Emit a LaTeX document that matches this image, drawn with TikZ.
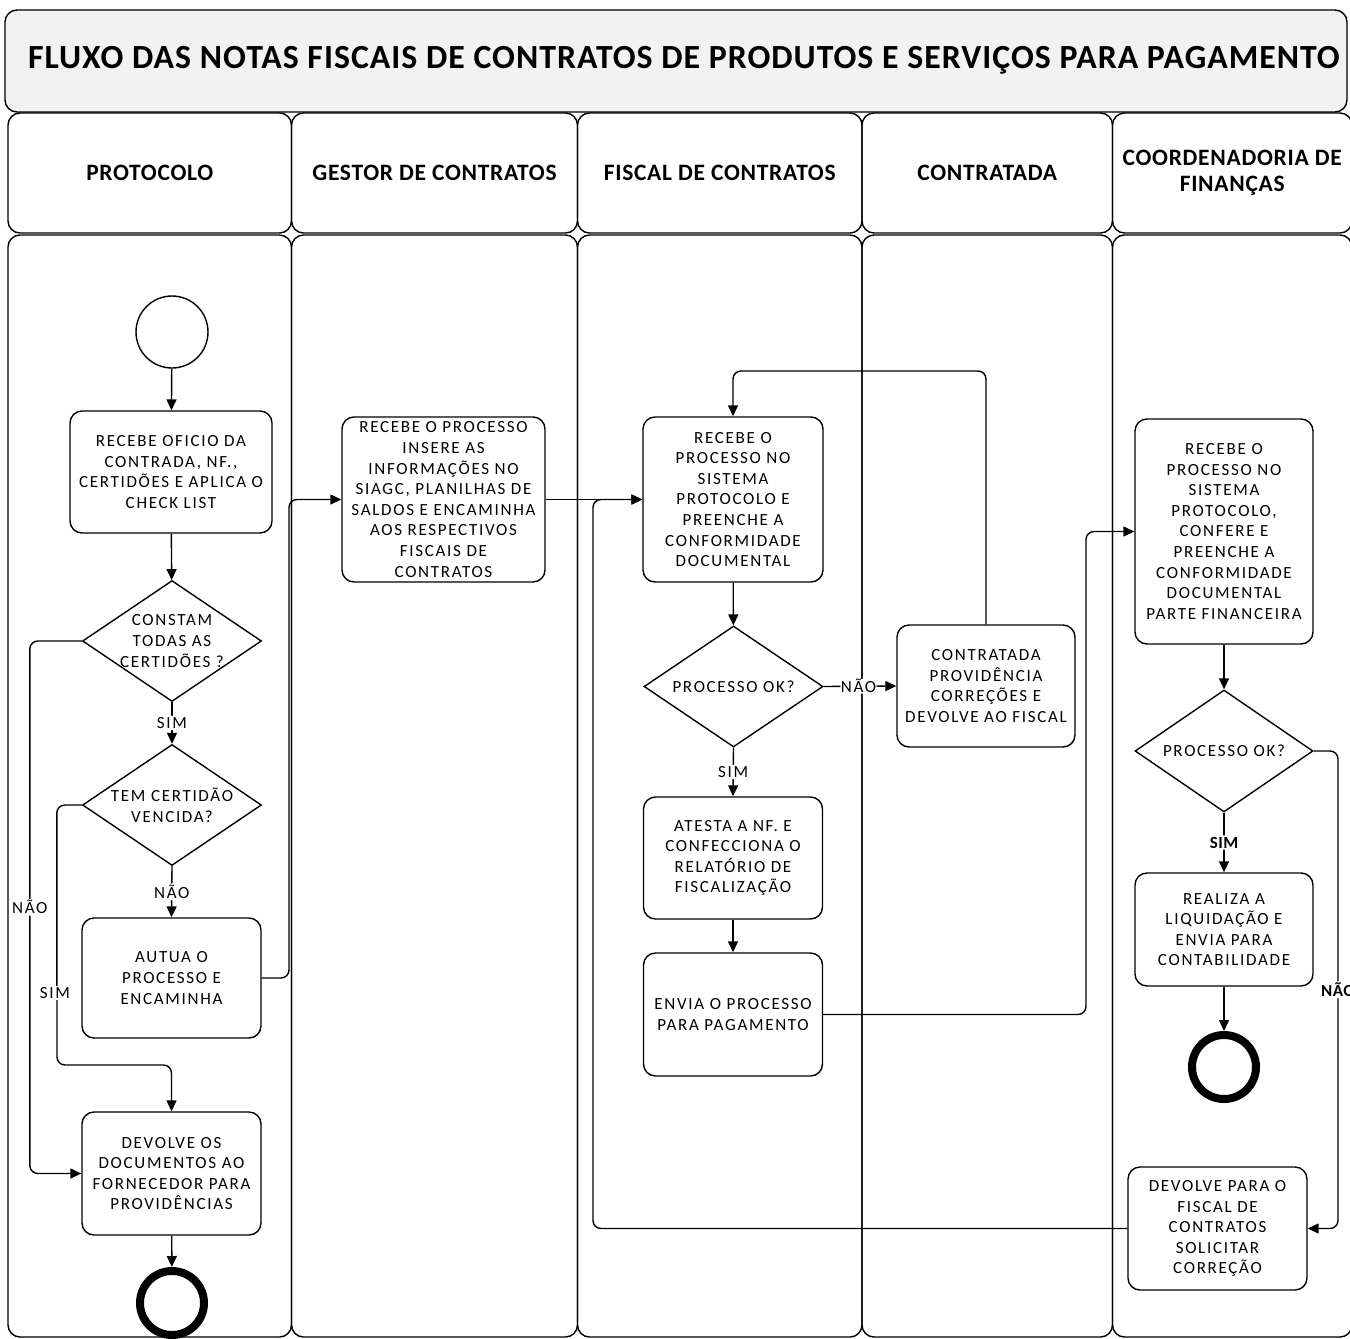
\documentclass[tikz,border=0pt]{standalone}
\usepackage{fontspec}
\setmainfont{Carlito}
\newfontfamily\bodyf{Carlito}[LetterSpace=10]
\newfontfamily\headf{Carlito}[LetterSpace=3]
\usetikzlibrary{arrows.meta,shapes.geometric,calc}
\definecolor{titlegray}{HTML}{F2F2F2}
\begin{document}
\begin{tikzpicture}[x=1pt,y=-1pt,
  lanebox/.style={draw, line width=1.4pt, rounded corners=12pt, inner sep=0pt},
  hdr/.style={lanebox, font=\headf\bfseries\fontsize{23.5}{26}\selectfont, align=center},
  proc/.style={draw, line width=1.4pt, rounded corners=12pt, fill=white, inner sep=0pt, align=center, font=\bodyf\fontsize{17}{20.6}\selectfont},
  dec/.style={diamond, draw, line width=1.4pt, inner sep=0pt, minimum width=179pt, minimum height=121pt, fill=white},
  dtext/.style={align=center, inner sep=0pt, font=\bodyf\fontsize{17}{20.6}\selectfont},
  flow/.style={line width=1.4pt, rounded corners=8pt, -{Triangle[length=11pt,width=10pt]}},
  lbl/.style={fill=white, inner sep=1.5pt, font=\bodyf\fontsize{17}{20.6}\selectfont},
  blbl/.style={fill=white, inner sep=1.5pt, font=\headf\bfseries\fontsize{17}{20.6}\selectfont},
  startev/.style={circle, draw, line width=1.4pt, minimum size=72pt, inner sep=0pt},
  endev/.style={circle, draw, line width=8pt, minimum size=64pt, inner sep=0pt}
]
\useasboundingbox (0,0) rectangle (1350,1339);

% title
\node[lanebox, fill=titlegray, minimum width=1342pt, minimum height=102pt] (title) at (676,61) {};
\node[font=\headf\bfseries\fontsize{33.8}{36}\selectfont, inner sep=0pt] (titletext) at (684,60) {FLUXO DAS NOTAS FISCAIS DE CONTRATOS DE PRODUTOS E SERVIÇOS PARA PAGAMENTO};

% headers
\node[hdr, minimum width=283.5pt, minimum height=120pt] (h1) at (149.75,173) {PROTOCOLO};
\node[hdr, minimum width=286pt, minimum height=120pt] (h2) at (434.5,173) {GESTOR DE CONTRATOS};
\node[hdr, minimum width=284.5pt, minimum height=120pt] (h3) at (719.75,173) {FISCAL DE CONTRATOS};
\node[hdr, minimum width=250.5pt, minimum height=120pt] (h4) at (987.25,173) {CONTRATADA};
\node[hdr, minimum width=239.5pt, minimum height=120pt] (h5) at (1232.25,173) {COORDENADORIA DE\\FINANÇAS};

% lane bodies
\node[lanebox, minimum width=283.5pt, minimum height=1102pt] (l1) at (149.75,786) {};
\node[lanebox, minimum width=286pt, minimum height=1102pt] (l2) at (434.5,786) {};
\node[lanebox, minimum width=284.5pt, minimum height=1102pt] (l3) at (719.75,786) {};
\node[lanebox, minimum width=250.5pt, minimum height=1102pt] (l4) at (987.25,786) {};
\node[lanebox, minimum width=239.5pt, minimum height=1102pt] (l5) at (1232.25,786) {};

% PROTOCOLO lane
\node[startev] (start) at (172,332) {};
\node[proc, minimum width=202pt, minimum height=122pt] (b1) at (171,472) {RECEBE OFICIO DA\\CONTRADA,  NF.,\\CERTIDÕES E APLICA O\\CHECK LIST};
\node[dec] (d1) at (172,641) {};
\node[dtext] (d1t) at (172,641) {CONSTAM\\TODAS AS\\CERTIDÕES ?};
\node[dec] (d2) at (172,805) {};
\node[dtext] (d2t) at (172,805) {TEM  CERTIDÃO\\VENCIDA?};
\node[proc, minimum width=179pt, minimum height=120pt] (b2) at (171.5,978) {AUTUA O\\PROCESSO E\\ENCAMINHA};
\node[proc, minimum width=179pt, minimum height=123pt] (b6) at (171.5,1173.5) {DEVOLVE OS\\DOCUMENTOS AO\\FORNECEDOR PARA\\PROVIDÊNCIAS};
\node[endev] (end1) at (172,1303) {};

% GESTOR lane
\node[proc, minimum width=203pt, minimum height=165pt] (g1) at (443.5,499.5) {RECEBE O PROCESSO\\INSERE AS\\INFORMAÇÕES NO\\SIAGC, PLANILHAS DE\\SALDOS E ENCAMINHA\\AOS RESPECTIVOS\\FISCAIS DE\\CONTRATOS};

% FISCAL lane
\node[proc, minimum width=180pt, minimum height=165pt] (f1) at (733,499.5) {RECEBE O\\PROCESSO NO\\SISTEMA\\PROTOCOLO E\\PREENCHE A\\CONFORMIDADE\\DOCUMENTAL};
\node[dec] (d3) at (733.5,686.5) {};
\node[dtext] (d3t) at (733.5,686.5) {PROCESSO  OK?};
\node[proc, minimum width=179pt, minimum height=122pt] (a1) at (733,858) {ATESTA A NF. E\\CONFECCIONA O\\RELATÓRIO DE\\FISCALIZAÇÃO};
\node[proc, minimum width=179pt, minimum height=123pt] (e1) at (733,1014.5) {ENVIA O PROCESSO\\PARA PAGAMENTO};

% CONTRATADA lane
\node[proc, minimum width=178pt, minimum height=122pt] (c1) at (986,686) {CONTRATADA\\PROVIDÊNCIA\\CORREÇÕES  E\\DEVOLVE AO FISCAL};

% COORDENADORIA lane
\node[proc, minimum width=178pt, minimum height=225pt] (k1) at (1224,531.5) {RECEBE O\\PROCESSO NO\\SISTEMA\\PROTOCOLO,\\CONFERE E\\PREENCHE A\\CONFORMIDADE\\DOCUMENTAL\\PARTE FINANCEIRA};
\node[dec, minimum width=178pt, minimum height=122pt] (d4) at (1224,751) {};
\node[dtext] (d4t) at (1224,751) {PROCESSO OK?};
\node[proc, minimum width=178pt, minimum height=113pt] (r1) at (1224,929.5) {REALIZA A\\LIQUIDAÇÃO E\\ENVIA PARA\\CONTABILIDADE};
\node[endev] (end2) at (1224,1067) {};
\node[proc, minimum width=179pt, minimum height=123pt] (dv) at (1217.5,1228.5) {DEVOLVE  PARA O\\FISCAL DE\\CONTRATOS\\SOLICITAR\\CORREÇÃO};

% connectors
\draw[flow] (start) -- (b1);
\draw[flow] (b1) -- (d1);
\draw[flow] (d1.south) -- node[lbl] (ls1) {SIM} (d2.north);
\draw[flow] (d2.south) -- node[lbl] (ln1) {NÃO} (b2.north);
\draw[flow] (d1.west) -- ++(-52,0) |- node[lbl, pos=0.25] (ln2) {NÃO} (b6.west);
\draw[flow] (d2.west) -- ++(-25,0) -- (57,1065) -| (b6.north);
\node[lbl] (ls2) at (55,993) {SIM};
\draw[flow] (b2.east) -- (289,978) |- (g1.west);
\draw[flow] (g1.east) -- (f1.west);
\draw[flow] (f1) -- (d3);
\draw[flow] (d3.east) -- node[lbl, pos=0.48, inner sep=0.5pt] (ln3) {NÃO} (c1.west);
\draw[flow] (c1.north) -- (986,371) -| (f1.north);
\draw[flow] (d3.south) -- node[lbl] (ls3) {SIM} (a1.north);
\draw[flow] (a1) -- (e1);
\draw[flow] (e1.east) -- (1086,1014.5) |- (k1.west);
\draw[flow] (k1) -- (d4);
\draw[flow] (d4.south) -- node[blbl] (ls4) {SIM} (r1.north);
\draw[flow] (r1) -- (end2);
\draw[flow] (d4.east) -- (1338,751) |- node[blbl, pos=0.25] (ln4) {NÃO} (dv.east);
\draw[flow] (dv.west) -| (593,499.5) -- (f1.west);
\draw[flow] (b6) -- (end1);
\end{tikzpicture}
\end{document}
